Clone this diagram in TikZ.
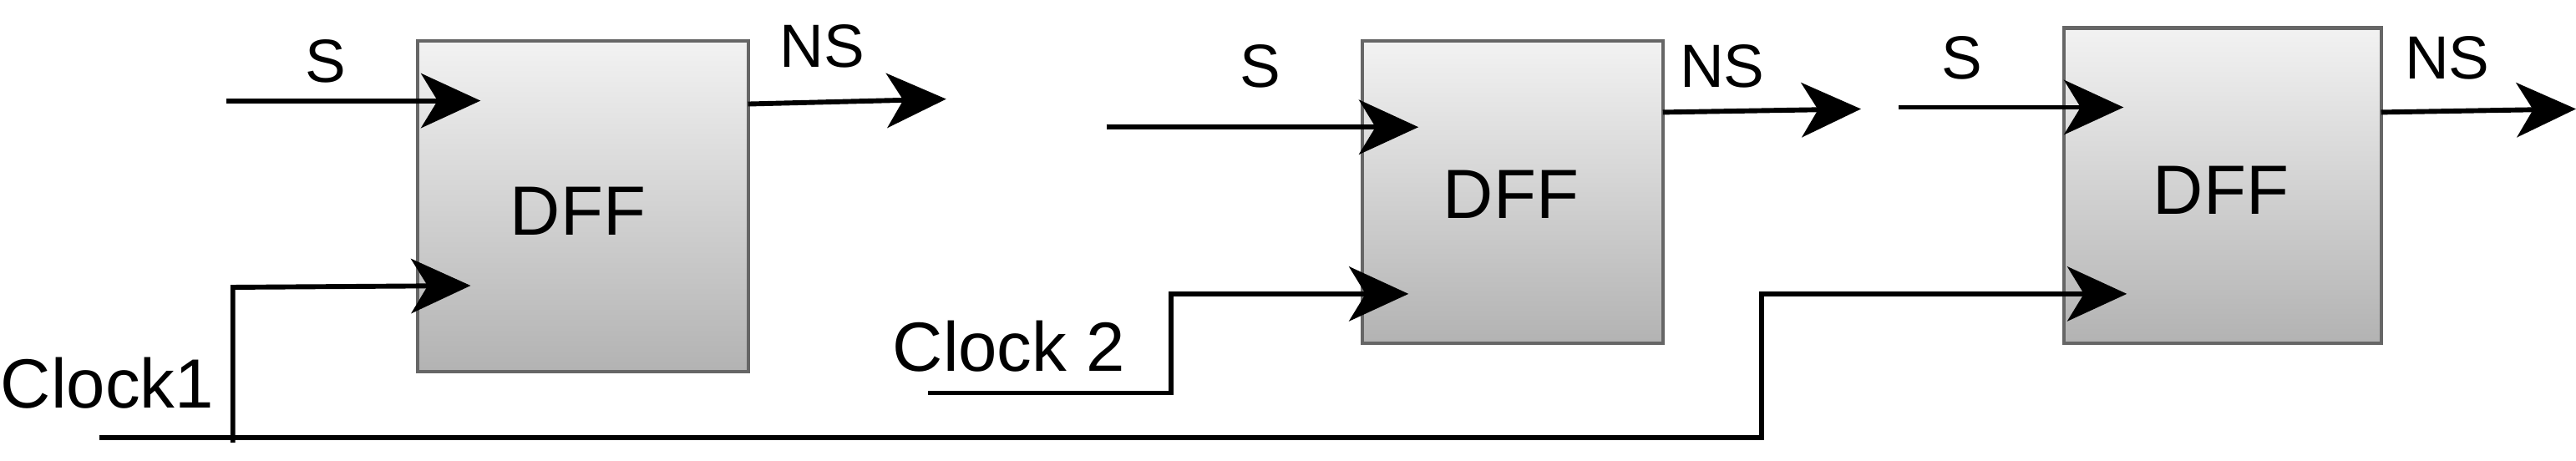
\documentclass[tikz,border=0pt]{standalone}
\usepackage{fontspec}
\setmainfont{Liberation Sans}
\usetikzlibrary{arrows.meta}
\begin{document}
\begin{tikzpicture}[x=0.01cm,y=-0.01cm,
  dff/.style={draw=black!60,line width=0.6pt,top color=black!5,bottom color=black!30,inner sep=0pt},
  wire/.style={line width=0.85pt,-{Stealth[length=0.36cm,width=0.33cm,inset=0.1cm]}},
  plain/.style={line width=0.85pt},
  lbl/.style={font=\fontsize{10.5}{12}\selectfont,inner sep=0pt},
  blbl/.style={font=\fontsize{12}{14}\selectfont,inner sep=0pt}]
\useasboundingbox (0,0) rectangle (1560,279);
\node[dff,minimum width=2cm,minimum height=2cm] (b1) at (353,125) {};
\node[dff,minimum width=1.82cm,minimum height=1.83cm] (b2) at (916,116.5) {};
\node[dff,minimum width=1.92cm,minimum height=1.91cm] (b3) at (1346,112.5) {};
\node[blbl] (d1) at (350,128) {DFF};
\node[blbl] (d2) at (915,118) {DFF};
\node[blbl] (d3) at (1345,115) {DFF};
\node[lbl] (s1) at (197,37) {S};
\node[lbl] (ns1) at (498,28) {NS};
\node[lbl] (s2) at (763,40) {S};
\node[lbl] (ns2) at (1043,40) {NS};
\node[lbl] (s3) at (1188,35) {S};
\node[lbl] (ns3) at (1482,35) {NS};
\node[blbl] (c1) at (65,232) {Clock1};
\node[blbl] (c2) at (611,210) {Clock 2};
\coordinate (s1a) at (137,61); \coordinate (s1b) at (291,61);
\coordinate (n1a) at (453,63); \coordinate (n1b) at (573,60);
\coordinate (s2a) at (670,77); \coordinate (s2b) at (859,77);
\coordinate (n2a) at (1007,68); \coordinate (n2b) at (1127,66);
\coordinate (s3a) at (1150,65); \coordinate (s3b) at (1286,65);
\coordinate (n3a) at (1442,68); \coordinate (n3b) at (1560,66);
\draw[wire] (s1a) -- (s1b);
\draw[wire] (n1a) -- (n1b);
\draw[wire] (s2a) -- (s2b);
\draw[wire] (n2a) -- (n2b);
\draw[wire] (s3a) -- (s3b);
\draw[wire] (n3a) -- (n3b);
\coordinate (k1) at (60,265); \coordinate (k1t) at (1288,178);
\draw[wire] (k1) -- (1067,265) -- (1067,178) -- (k1t);
\coordinate (br) at (141,268); \coordinate (brt) at (285,173);
\draw[wire] (br) -- (141,174) -- (brt);
\coordinate (k2) at (562,238); \coordinate (k2t) at (853,178);
\draw[wire] (k2) -- (709,238) -- (709,178) -- (k2t);
\end{tikzpicture}
\end{document}
